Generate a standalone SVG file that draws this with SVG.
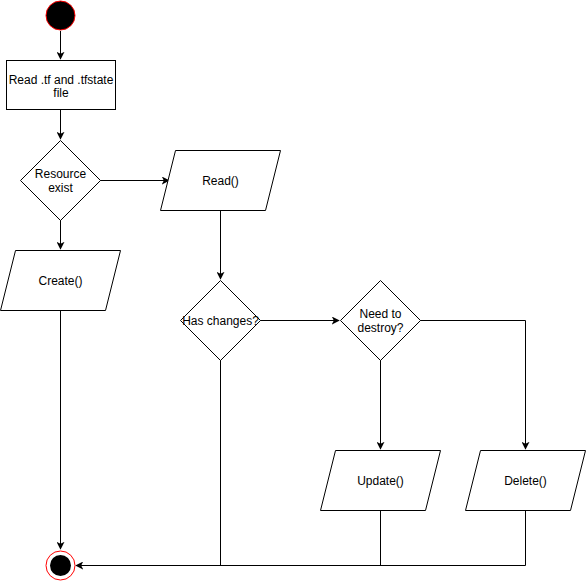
<svg xmlns="http://www.w3.org/2000/svg" width="586" height="581" viewBox="0 0 586 581">
<defs>
<style>
.n{fill:#fff;stroke:#000;stroke-width:1}
.c{fill:none;stroke:#000;stroke-width:1}
text{font-family:"Liberation Sans",Arial,sans-serif;font-size:12px;fill:#000;text-anchor:middle}
</style>
<marker id="a" viewBox="0 0 10 10" refX="9" refY="5" markerWidth="8" markerHeight="8" markerUnits="userSpaceOnUse" orient="auto">
<path d="M0,0 L10,5 L0,10 L2.5,5 Z" fill="#000"/>
</marker>
</defs>
<rect width="586" height="581" fill="#fff"/>
<g id="connectors">
<path class="c" d="M60.5,31 V59" marker-end="url(#a)"/>
<path class="c" d="M60.5,110 V139" marker-end="url(#a)"/>
<path class="c" d="M100,180.5 H169" marker-end="url(#a)"/>
<path class="c" d="M60.5,220 V249" marker-end="url(#a)"/>
<path class="c" d="M220.5,210 V279" marker-end="url(#a)"/>
<path class="c" d="M260,320.5 H339" marker-end="url(#a)"/>
<path class="c" d="M380.5,360 V449" marker-end="url(#a)"/>
<path class="c" d="M420,320.5 H525.5 V449" marker-end="url(#a)"/>
<path class="c" d="M60.5,310 V549" marker-end="url(#a)"/>
<path class="c" d="M525.5,510 V565.5 H76" marker-end="url(#a)"/>
<path class="c" d="M220.5,360 V565.5"/>
<path class="c" d="M380.5,510 V565.5"/>
</g>
<g id="start"><circle cx="60.5" cy="15.5" r="14.5" fill="#000" stroke="#ff0000" stroke-width="1"/></g>
<g id="read-files"><rect class="n" x="6.5" y="60.5" width="109" height="49"/><text x="61" y="84">Read .tf and .tfstate</text><text x="61" y="97">file</text></g>
<g id="resource-exist"><path class="n" d="M60.5,140.5 L100.5,180.5 L60.5,220.5 L20.5,180.5 Z"/><text x="60.5" y="178">Resource</text><text x="60.5" y="192">exist</text></g>
<g id="read"><path class="n" d="M175.5,150.5 H280.5 L265.5,210.5 H160.5 Z"/><text x="220.5" y="185">Read()</text></g>
<g id="create"><path class="n" d="M15.5,250.5 H120.5 L105.5,310.5 H0.5 Z"/><text x="60.5" y="285">Create()</text></g>
<g id="has-changes"><path class="n" d="M220.5,280.5 L260.5,320.5 L220.5,360.5 L180.5,320.5 Z"/><text x="220.5" y="325">Has changes?</text></g>
<g id="need-destroy"><path class="n" d="M380.5,280.5 L420.5,320.5 L380.5,360.5 L340.5,320.5 Z"/><text x="380.5" y="318">Need to</text><text x="380.5" y="332">destroy?</text></g>
<g id="update"><path class="n" d="M335.5,450.5 H440.5 L425.5,510.5 H320.5 Z"/><text x="380.5" y="485">Update()</text></g>
<g id="delete"><path class="n" d="M480.5,450.5 H585.5 L570.5,510.5 H465.5 Z"/><text x="525.5" y="485">Delete()</text></g>
<g id="end"><circle cx="60.5" cy="565.5" r="14.5" fill="#fff" stroke="#ff0000" stroke-width="1"/><circle cx="60.5" cy="565.5" r="10.5" fill="#000"/></g>
</svg>
